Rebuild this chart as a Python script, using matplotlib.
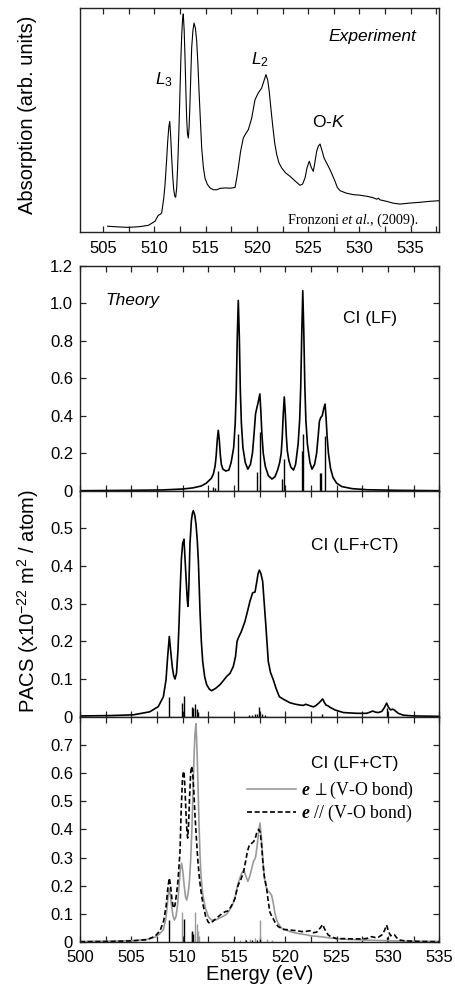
import numpy as np
import matplotlib
matplotlib.use("Agg")
import matplotlib.pyplot as plt
from matplotlib.ticker import MultipleLocator, FuncFormatter
from matplotlib.offsetbox import TextArea, HPacker, AnchoredOffsetbox

plt.rcParams['font.family'] = ['Liberation Sans', 'DejaVu Sans']
plt.rcParams['mathtext.fontset'] = 'custom'
plt.rcParams['mathtext.rm'] = 'Liberation Sans'
plt.rcParams['mathtext.it'] = 'Liberation Sans:italic'
plt.rcParams['mathtext.bf'] = 'Liberation Serif:bold:italic'

# experiment (Fronzoni et al. 2009), arb. units
exp_pts = np.array([
    (505.43, 0.027), (506.5, 0.024), (507.45, 0.022), (508.5, 0.025), (509.4, 0.031), (510.05, 0.049),
    (510.37, 0.076), (510.55, 0.08), (510.7, 0.086), (510.9, 0.15), (511.03, 0.213), (511.18, 0.32),
    (511.29, 0.406), (511.4, 0.47), (511.49, 0.495), (511.58, 0.43), (511.68, 0.332), (511.78, 0.25),
    (511.88, 0.19), (511.98, 0.162), (512.07, 0.156), (512.17, 0.2), (512.27, 0.302), (512.38, 0.45),
    (512.49, 0.629), (512.58, 0.78), (512.66, 0.882), (512.74, 0.95), (512.81, 0.975), (512.9, 0.9),
    (512.98, 0.778), (513.06, 0.64), (513.14, 0.51), (513.22, 0.44), (513.3, 0.421), (513.38, 0.47),
    (513.47, 0.585), (513.55, 0.71), (513.63, 0.823), (513.75, 0.9), (513.86, 0.934), (514.0, 0.91),
    (514.12, 0.853), (514.24, 0.75), (514.35, 0.629), (514.48, 0.5), (514.61, 0.376), (514.77, 0.29),
    (514.93, 0.242), (515.15, 0.215), (515.42, 0.198), (515.75, 0.19), (516.07, 0.19), (516.4, 0.196),
    (516.88, 0.198), (517.4, 0.197), (517.86, 0.2), (518.02, 0.24), (518.18, 0.287), (518.4, 0.36),
    (518.67, 0.421), (518.9, 0.44), (519.16, 0.458), (519.49, 0.51), (519.81, 0.592), (520.13, 0.622),
    (520.46, 0.644), (520.68, 0.675), (520.88, 0.704), (521.05, 0.68), (521.2, 0.629), (521.37, 0.55),
    (521.53, 0.48), (521.73, 0.4), (521.93, 0.347), (522.15, 0.31), (522.42, 0.287), (522.8, 0.265),
    (523.23, 0.25), (523.7, 0.23), (524.2, 0.21), (524.45, 0.215), (524.69, 0.242), (524.9, 0.29),
    (525.11, 0.317), (525.3, 0.29), (525.5, 0.272), (525.65, 0.31), (525.83, 0.362), (526.0, 0.385),
    (526.16, 0.394), (526.35, 0.365), (526.55, 0.332), (526.85, 0.305), (527.13, 0.28), (527.37, 0.255),
    (527.62, 0.228), (527.85, 0.2), (528.11, 0.186), (528.7, 0.175), (529.41, 0.168), (530.0, 0.166),
    (530.71, 0.161), (531.3, 0.155), (531.7, 0.148), (531.85, 0.152), (532.0, 0.145), (532.67, 0.138),
    (533.3, 0.13), (533.97, 0.126), (534.8, 0.13), (535.92, 0.134), (536.8, 0.138), (537.77, 0.141)])

# CI (LF) spectrum and sticks
lf_pts = np.array([
    (500.0, 0.0), (505.0, 0.002), (508.0, 0.004), (510.0, 0.009), (511.0, 0.015), (511.8, 0.025),
    (512.3, 0.04), (512.6, 0.056), (512.8, 0.066), (513.0, 0.09), (513.17, 0.135), (513.27, 0.19),
    (513.37, 0.27), (513.47, 0.322), (513.57, 0.27), (513.67, 0.19), (513.77, 0.14), (513.92, 0.115),
    (514.2, 0.105), (514.5, 0.11), (514.72, 0.15), (514.97, 0.23), (515.12, 0.36), (515.22, 0.53),
    (515.32, 0.82), (515.42, 1.015), (515.52, 0.82), (515.62, 0.53), (515.72, 0.36), (515.87, 0.23),
    (516.1, 0.15), (516.35, 0.115), (516.6, 0.14), (516.8, 0.2), (516.95, 0.3), (517.1, 0.41),
    (517.22, 0.44), (517.35, 0.47), (517.52, 0.516), (517.62, 0.42), (517.72, 0.3), (517.85, 0.2),
    (518.05, 0.13), (518.35, 0.08), (518.7, 0.062), (519.0, 0.075), (519.25, 0.11), (519.45, 0.15),
    (519.6, 0.2), (519.7, 0.285), (519.8, 0.41), (519.9, 0.5), (520.0, 0.41), (520.1, 0.29),
    (520.2, 0.21), (520.35, 0.16), (520.55, 0.125), (520.8, 0.11), (521.0, 0.14), (521.25, 0.25),
    (521.4, 0.38), (521.5, 0.55), (521.6, 0.83), (521.7, 1.067), (521.8, 0.85), (521.9, 0.56),
    (522.0, 0.38), (522.15, 0.25), (522.4, 0.15), (522.6, 0.115), (522.85, 0.14), (523.05, 0.2),
    (523.2, 0.29), (523.32, 0.37), (523.45, 0.39), (523.6, 0.4), (523.75, 0.44), (523.87, 0.462),
    (523.97, 0.39), (524.07, 0.29), (524.2, 0.2), (524.4, 0.12), (524.65, 0.07), (525.0, 0.04),
    (525.5, 0.022), (526.5, 0.011), (528.0, 0.005), (531.0, 0.002), (535.0, 0.0)])
lf_stick_e = [512.95, 513.15, 513.47, 515.43, 517.21, 517.53, 519.65, 519.9, 521.66, 521.7, 523.4, 523.47, 523.88]
lf_stick_h = [0.02, 0.015, 0.107, 0.304, 0.1, 0.313, 0.064, 0.167, 0.21, 0.304, 0.096, 0.096, 0.292]

# CI (LF+CT) spectrum and sticks
ct_pts = np.array([
    (500.0, 0.002), (503.0, 0.003), (505.2, 0.005), (506.8, 0.013), (507.63, 0.027), (508.12, 0.053),
    (508.38, 0.098), (508.54, 0.16), (508.7, 0.213), (508.85, 0.17), (509.0, 0.13), (509.12, 0.11),
    (509.25, 0.1), (509.4, 0.115), (509.55, 0.18), (509.65, 0.25), (509.74, 0.325), (509.88, 0.42),
    (510.0, 0.46), (510.13, 0.471), (510.23, 0.42), (510.33, 0.369), (510.45, 0.31), (510.52, 0.293),
    (510.6, 0.34), (510.71, 0.458), (510.85, 0.52), (510.95, 0.54), (511.04, 0.547), (511.18, 0.535),
    (511.3, 0.511), (511.42, 0.47), (511.53, 0.413), (511.62, 0.34), (511.69, 0.28), (511.82, 0.2),
    (511.95, 0.147), (512.15, 0.105), (512.34, 0.085), (512.6, 0.073), (512.83, 0.069), (513.2, 0.075),
    (513.64, 0.085), (514.0, 0.097), (514.29, 0.107), (514.61, 0.115), (514.93, 0.133), (515.15, 0.16),
    (515.3, 0.2), (515.42, 0.209), (515.7, 0.225), (516.07, 0.253), (516.3, 0.278), (516.56, 0.307),
    (516.82, 0.329), (517.05, 0.331), (517.2, 0.355), (517.35, 0.38), (517.47, 0.389), (517.62, 0.38),
    (517.79, 0.36), (517.95, 0.3), (518.12, 0.236), (518.34, 0.147), (518.55, 0.118), (518.83, 0.098),
    (519.1, 0.075), (519.42, 0.053), (519.9, 0.045), (520.46, 0.037), (521.0, 0.033), (521.43, 0.031),
    (521.75, 0.03), (521.99, 0.033), (522.3, 0.03), (522.73, 0.026), (523.0, 0.03), (523.3, 0.037),
    (523.5, 0.043), (523.64, 0.047), (523.8, 0.038), (523.96, 0.031), (524.15, 0.029), (524.35, 0.025),
    (524.83, 0.018), (525.65, 0.011), (526.95, 0.009), (527.92, 0.009), (528.25, 0.012), (528.51, 0.015),
    (528.8, 0.012), (529.06, 0.011), (529.4, 0.014), (529.65, 0.024), (529.87, 0.036), (530.05, 0.025),
    (530.26, 0.018), (530.45, 0.02), (530.61, 0.018), (531.0, 0.009), (531.5, 0.004), (532.5, 0.002),
    (535.0, 0.001)])
ct_stick_e = [508.7, 509.9, 510.13, 510.88, 511.04, 511.2, 511.37, 511.53,
              516.5, 516.8, 517.0, 517.2, 517.47, 517.7, 518.0, 523.6, 529.87]
ct_stick_h = [0.052, 0.036, 0.055, 0.027, 0.024, 0.033, 0.02, 0.012,
              0.004, 0.005, 0.006, 0.008, 0.025, 0.006, 0.004, 0.006, 0.022]

# polarised CI (LF+CT): e perpendicular (grey) and e parallel (dashed)
perp_pts = np.array([
    (500.0, 0.002), (503.0, 0.003), (505.2, 0.005), (506.5, 0.009), (507.47, 0.019), (508.12, 0.043),
    (508.35, 0.08), (508.5, 0.13), (508.6, 0.17), (508.7, 0.19), (508.8, 0.165), (508.93, 0.126),
    (509.05, 0.095), (509.19, 0.078), (509.35, 0.09), (509.5, 0.13), (509.65, 0.2), (509.78, 0.26),
    (509.9, 0.28), (510.02, 0.25), (510.15, 0.2), (510.28, 0.16), (510.39, 0.149), (510.52, 0.17),
    (510.65, 0.21), (510.78, 0.29), (510.9, 0.4), (511.0, 0.52), (511.1, 0.65), (511.2, 0.74),
    (511.3, 0.775), (511.4, 0.68), (511.5, 0.55), (511.6, 0.41), (511.7, 0.3), (511.8, 0.23),
    (511.95, 0.17), (512.18, 0.125), (512.5, 0.09), (512.8, 0.078), (513.2, 0.078), (513.6, 0.085),
    (514.0, 0.092), (514.3, 0.1), (514.6, 0.115), (514.93, 0.138), (515.15, 0.165), (515.32, 0.197),
    (515.55, 0.225), (515.75, 0.244), (515.95, 0.255), (516.15, 0.235), (516.35, 0.215), (516.55, 0.235),
    (516.72, 0.26), (516.9, 0.286), (517.1, 0.3), (517.25, 0.34), (517.4, 0.39), (517.53, 0.422),
    (517.65, 0.38), (517.8, 0.3), (517.95, 0.23), (518.12, 0.197), (518.3, 0.18), (518.5, 0.175),
    (518.67, 0.165), (518.83, 0.138), (519.0, 0.1), (519.16, 0.078), (519.4, 0.06), (519.65, 0.049),
    (520.0, 0.043), (520.46, 0.037), (521.0, 0.032), (521.43, 0.029), (522.0, 0.026), (522.5, 0.022),
    (523.38, 0.019), (524.0, 0.016), (524.68, 0.013), (525.5, 0.01), (526.3, 0.009), (527.5, 0.007),
    (529.55, 0.005), (532.0, 0.003), (535.0, 0.002)])
par_pts = np.array([
    (500.0, 0.001), (503.0, 0.002), (505.0, 0.004), (506.5, 0.008), (507.3, 0.02), (507.8, 0.04),
    (508.15, 0.075), (508.4, 0.13), (508.55, 0.19), (508.7, 0.227), (508.82, 0.2), (508.95, 0.155),
    (509.09, 0.12), (509.25, 0.13), (509.4, 0.17), (509.55, 0.22), (509.74, 0.32), (509.85, 0.46),
    (509.97, 0.57), (510.05, 0.6), (510.13, 0.606), (510.22, 0.55), (510.32, 0.46), (510.42, 0.39),
    (510.49, 0.369), (510.58, 0.42), (510.68, 0.52), (510.78, 0.6), (510.88, 0.624), (510.98, 0.6),
    (511.08, 0.54), (511.2, 0.45), (511.35, 0.36), (511.5, 0.28), (511.65, 0.22), (511.79, 0.18),
    (512.0, 0.13), (512.25, 0.09), (512.5, 0.07), (512.66, 0.066), (512.9, 0.072), (513.2, 0.082),
    (513.47, 0.09), (513.8, 0.1), (514.16, 0.108), (514.4, 0.11), (514.61, 0.12), (514.85, 0.135),
    (515.1, 0.155), (515.25, 0.18), (515.42, 0.203), (515.65, 0.22), (515.91, 0.245), (516.1, 0.28),
    (516.3, 0.32), (516.5, 0.345), (516.7, 0.35), (516.88, 0.355), (517.05, 0.365), (517.21, 0.387),
    (517.4, 0.4), (517.55, 0.39), (517.7, 0.34), (517.82, 0.28), (517.95, 0.235), (518.18, 0.19),
    (518.35, 0.14), (518.51, 0.105), (518.7, 0.09), (518.83, 0.082), (519.0, 0.07), (519.3, 0.055),
    (519.8, 0.045), (520.6, 0.042), (521.1, 0.04), (521.6, 0.037), (522.08, 0.038), (522.4, 0.04),
    (522.73, 0.033), (523.05, 0.035), (523.3, 0.045), (523.5, 0.055), (523.64, 0.062), (523.8, 0.048),
    (524.0, 0.035), (524.2, 0.024), (524.5, 0.018), (525.0, 0.012), (525.65, 0.012), (526.5, 0.011),
    (527.5, 0.011), (528.0, 0.013), (528.4, 0.019), (528.75, 0.016), (529.07, 0.017), (529.4, 0.025),
    (529.65, 0.04), (529.87, 0.06), (530.05, 0.038), (530.26, 0.022), (530.45, 0.026), (530.62, 0.026),
    (530.85, 0.015), (531.1, 0.007), (531.65, 0.004), (533.0, 0.002), (535.0, 0.001)])
perp_stick_e = [509.9, 511.25, 511.35, 511.45, 511.55, 515.6, 516.1, 516.6, 517.0, 517.53, 518.2, 518.7]
perp_stick_h = [0.108, 0.105, 0.065, 0.04, 0.02, 0.008, 0.012, 0.01, 0.015, 0.078, 0.01, 0.006]
par_stick_e = [508.7, 510.13, 510.9, 510.95, 511.0, 516.2, 516.8, 517.2, 517.5, 529.87]
par_stick_h = [0.078, 0.083, 0.04, 0.035, 0.03, 0.006, 0.008, 0.006, 0.01, 0.019]

FS = 12
SPINE = '#222222'
GREY = '#9a9a9a'
SERIF = ['Liberation Serif', 'DejaVu Serif']


def style(ax, ymajor=None):
    for s in ax.spines.values():
        s.set_color(SPINE)
        s.set_linewidth(1.0)
    ax.xaxis.set_major_locator(MultipleLocator(5))
    ax.xaxis.set_minor_locator(MultipleLocator(2.5))
    ax.tick_params(which='both', direction='in', top=True, right=True,
                   length=4, width=0.9, color=SPINE, labelsize=FS, pad=5)
    ax.tick_params(axis='x', which='both', pad=6)
    if ymajor is not None:
        ax.yaxis.set_major_locator(MultipleLocator(ymajor))
        ax.yaxis.set_major_formatter(FuncFormatter(lambda v, p: '0' if abs(v) < 1e-9 else '%.1f' % v))


fig = plt.figure(figsize=(4.56, 9.88), dpi=100)
L, W = 80 / 456, 359.3 / 456
ax1 = fig.add_axes([L, 1 - 232.3 / 988, W, 224 / 988])
ax2 = fig.add_axes([L, 1 - 490.7 / 988, W, 225 / 988])
ax3 = fig.add_axes([L, 1 - 716.7 / 988, W, 226 / 988])
ax4 = fig.add_axes([L, 1 - 942 / 988, W, 225.3 / 988])

# experiment
ax1.plot(exp_pts[:, 0], exp_pts[:, 1], color='black', lw=0.8)
ax1.set_xlim(502.73, 537.8)
ax1.set_ylim(0, 1)
style(ax1)
ax1.set_yticks([])
ax1.text(0.937, 0.872, 'Experiment', transform=ax1.transAxes, ha='right', va='center',
         fontsize=12.5, style='italic')
ax1.text(510.93, 0.68, '$L_3$', ha='center', va='center', fontsize=12.5)
ax1.text(520.25, 0.77, '$L_2$', ha='center', va='center', fontsize=12.5)
ax1.text(526.97, 0.492, 'O-$K$', ha='center', va='center', fontsize=12.5)
ref_parts = [TextArea('Fronzoni ', textprops=dict(family=SERIF, size=10.2)),
             TextArea('et al.', textprops=dict(family=SERIF, size=10.2, style='italic')),
             TextArea(', (2009).', textprops=dict(family=SERIF, size=10.2))]
ref_box = AnchoredOffsetbox(loc='lower right', child=HPacker(children=ref_parts, pad=0, sep=0),
                            bbox_to_anchor=(0.9416, 0.025), bbox_transform=ax1.transAxes,
                            frameon=False, pad=0, borderpad=0)
ax1.add_artist(ref_box)

# CI (LF)
ax2.plot(lf_pts[:, 0], lf_pts[:, 1], color='black', lw=1.2)
ax2.vlines(lf_stick_e, 0, lf_stick_h, color='black', lw=1.0)
ax2.set_xlim(500, 535)
ax2.set_ylim(0, 1.2)
style(ax2, 0.2)
ax2.tick_params(labelbottom=False)
ax2.text(0.072, 0.844, 'Theory', transform=ax2.transAxes, va='center', fontsize=12.5, style='italic')
ax2.text(0.733, 0.766, 'CI (LF)', transform=ax2.transAxes, va='center', fontsize=12.5)

# CI (LF+CT)
ax3.plot(ct_pts[:, 0], ct_pts[:, 1], color='black', lw=1.2)
ax3.vlines(ct_stick_e, 0, ct_stick_h, color='black', lw=1.0)
ax3.set_xlim(500, 535)
ax3.set_ylim(0, 0.6)
style(ax3, 0.1)
ax3.set_yticks([0, 0.1, 0.2, 0.3, 0.4, 0.5])
ax3.tick_params(labelbottom=False)
ax3.text(0.643, 0.757, 'CI (LF+CT)', transform=ax3.transAxes, va='center', fontsize=12.5)

# polarised
ax4.vlines(perp_stick_e, 0, perp_stick_h, color=GREY, lw=1.0)
ax4.vlines(par_stick_e, 0, par_stick_h, color='black', lw=1.0)
lp, = ax4.plot(perp_pts[:, 0], perp_pts[:, 1], color=GREY, lw=1.2)
ld, = ax4.plot(par_pts[:, 0], par_pts[:, 1], color='black', lw=1.2, ls=(0, (3, 1.6)))
ax4.set_xlim(500, 535)
ax4.set_ylim(0, 0.8)
style(ax4, 0.1)
ax4.set_yticks([0, 0.1, 0.2, 0.3, 0.4, 0.5, 0.6, 0.7])
ax4.text(0.643, 0.793, 'CI (LF+CT)', transform=ax4.transAxes, va='center', fontsize=12.5)
ax4.legend([lp, ld], ['$\\mathbf{e}\\,\\perp$(V-O bond)', '$\\mathbf{e}$ // (V-O bond)'],
           loc='center left', bbox_to_anchor=(0.464, 0.621), frameon=False,
           borderpad=0, borderaxespad=0, handlelength=2.8, handletextpad=0.25, labelspacing=0.12,
           prop={'family': SERIF, 'size': 12.8})
ax4.set_xlabel('Energy (eV)', fontsize=14.5, labelpad=0)

fig.text(0.0614, 0.884, 'Absorption (arb. units)', rotation=90, ha='center', va='center', fontsize=14.5)
fig.text(0.0614, 0.392, 'PACS (x10$^{-22}$ m$^2$ / atom)', rotation=90, ha='center', va='center',
         fontsize=14.5)

fig.savefig('out.png', dpi=100)
